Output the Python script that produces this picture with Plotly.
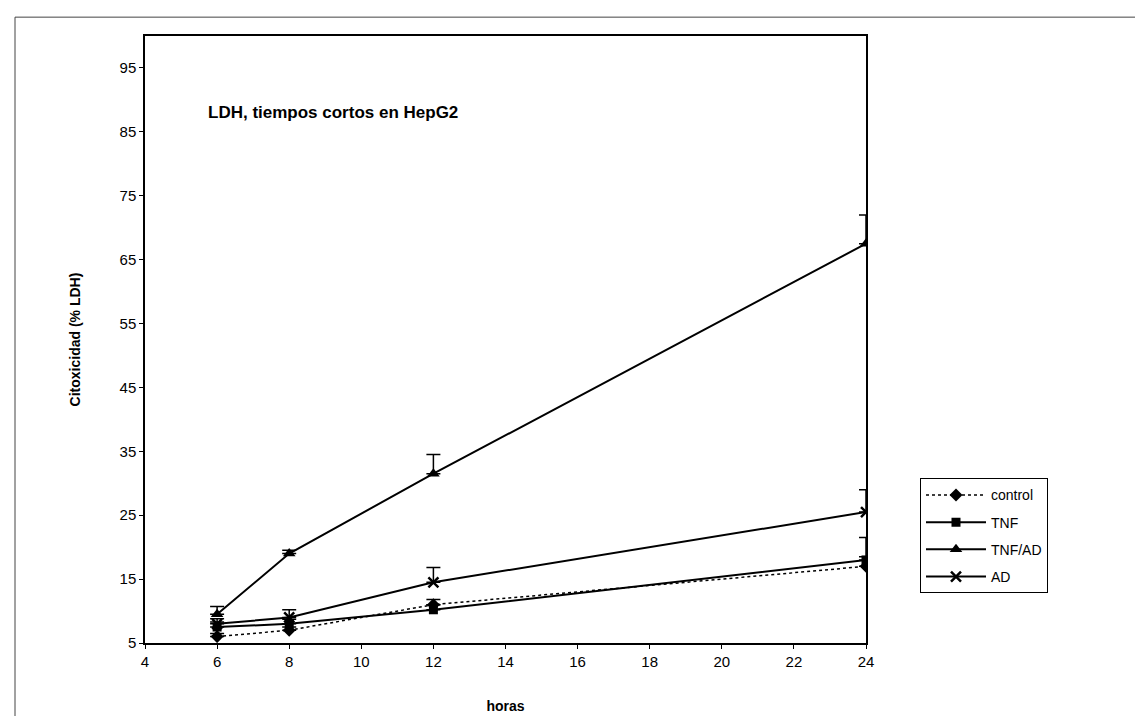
import plotly.graph_objects as go

horas = [6, 8, 12, 24]

control = [6.0, 7.0, 11.0, 17.0]
control_err = [0.5, 0.5, 0.8, 1.5]

tnf = [7.5, 8.0, 10.2, 18.0]
tnf_err = [0.8, 0.7, 0.8, 3.5]

tnf_ad = [9.5, 19.0, 31.5, 67.5]
tnf_ad_err = [1.2, 0.5, 3.0, 4.5]

ad = [8.0, 9.0, 14.5, 25.5]
ad_err = [0.8, 1.2, 2.3, 3.5]

series = [
    ("control", control, control_err, "diamond", "dot", 1.5, 10),
    ("TNF", tnf, tnf_err, "square", "solid", 2, 9),
    ("TNF/AD", tnf_ad, tnf_ad_err, "triangle-up", "solid", 2, 11),
    ("AD", ad, ad_err, "x-thin-open", "solid", 2, 10),
]

fig = go.Figure()
for name, vals, err, sym, dash, lw, ms in series:
    fig.add_trace(go.Scatter(
        x=horas, y=vals, name=name, mode="lines+markers",
        legendgroup=name,
        line=dict(color="black", width=lw, dash=dash),
        marker=dict(symbol=sym, size=ms, color="black",
                    line=dict(color="black", width=2.5 if sym.startswith("x") else 0)),
        error_y=dict(type="data", symmetric=False, array=err,
                     arrayminus=[0] * len(err), color="black",
                     thickness=1.5, width=7),
    ))

font_family = "Liberation Sans, Arial, sans-serif"

L, R, T, B = 137, 285, 28, 76
pw = 1143 - L - R
ph = 716 - T - B

fig.update_layout(
    width=1143, height=716,
    margin=dict(l=L, r=R, t=T, b=B),
    paper_bgcolor="white", plot_bgcolor="white",
    font=dict(family=font_family, size=15, color="black"),
    showlegend=True,
    legend=dict(x=(912 - L) / pw, y=(716 - B - 474) / ph, xanchor="left", yanchor="top",
                bordercolor="black", borderwidth=1,
                font=dict(size=14, family=font_family),
                tracegroupgap=6, itemwidth=60),
    xaxis=dict(range=[4, 24], tickvals=list(range(4, 25, 2)),
               showgrid=False, zeroline=False,
               showline=True, linecolor="black", linewidth=1.5, mirror=True,
               ticks="outside", ticklen=4, tickcolor="black",
               tickfont=dict(size=15),
               title=dict(text="<b>horas</b>", font=dict(size=14), standoff=32)),
    yaxis=dict(range=[5, 100], tickvals=list(range(5, 100, 10)),
               showgrid=False, zeroline=False,
               showline=True, linecolor="black", linewidth=1.5, mirror=True,
               ticks="outside", ticklen=4, tickcolor="black",
               tickfont=dict(size=15),
               title=dict(text="<b>Citoxicidad (% LDH)</b>", font=dict(size=14), standoff=36)),
    annotations=[dict(text="<b>LDH, tiempos cortos en HepG2</b>",
                      xref="x", yref="y", x=5.7, y=88, xanchor="left",
                      yanchor="middle", showarrow=False,
                      font=dict(size=17, family=font_family))],
    shapes=[dict(type="rect", xref="paper", yref="paper",
                 x0=(7 - L) / pw, x1=(1133 - L) / pw,
                 y0=-(730 - (716 - B)) / ph, y1=(716 - B - 9) / ph,
                 line=dict(color="#444", width=1), fillcolor="rgba(0,0,0,0)",
                 layer="below")],
)

fig.write_html("out.html")
